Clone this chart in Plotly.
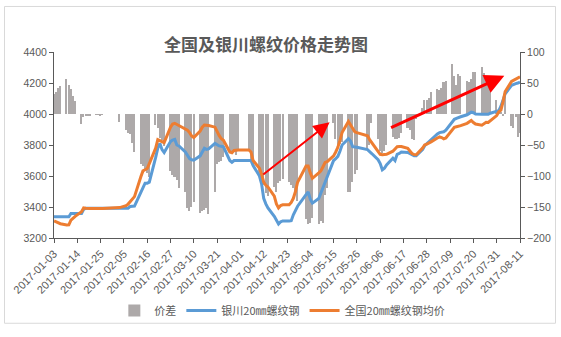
import pandas as pd
import plotly.graph_objects as go

# ---------------- data (one row per week, Mon..Fri; None = no quote) ----------------
week_starts = pd.date_range("2017-01-02", "2017-08-07", freq="W-MON")

diff_by_week = [
    [None, 32, 36, 42, 45],
    [56, 47, 41, 29, 21],
    [-16, -5, -4, -3, -3],
    [-1, -1, -2, -1, None],
    [None, None, None, None, -13],
    [-26, -30, -33, -47, -62],
    [-80, -84, -88, -95, -102],
    [-18, -22, -38, -42, -52],
    [-92, -99, -102, -107, -119],
    [-125, -152, -157, -150, -142],
    [-159, -157, -155, -151, -161],
    [-125, -80, -78, -76, -70],
    [-60, -65, -62, -66, -58],
    [None, None, -60, -75, -80],
    [-100, -108, -115, -128, -133],
    [-118, -125, -112, -108, -105],
    [-110, -115, -120, -130, -140],
    [None, -170, -178, -175, -168],
    [-178, -172, -175, -130, -120],
    [-15, -40, -50, -48, -45],
    [-126, -125, -110, -97, -90],
    [None, None, -58, -50, -15],
    [-40, -60, -63, -60, -50],
    [-37, -40, -41, -38, -30],
    [-22, -25, -40, -42, -8],
    [10, 23, 22, 26, 36],
    [41, 38, 42, 51, 54],
    [80, 62, 46, 64, 62],
    [54, 51, 56, 68, 67],
    [76, 66, 62, 57, 45],
    [23, 8, 2, -2, 33],
    [-20, -22, -5, -37, -30],
]

yinchuan_by_week = [
    [None, 3337, 3337, 3337, 3337],
    [3337, 3337, 3358, 3358, 3358],
    [3358, 3385, 3392, 3392, 3392],
    [3392, 3392, 3392, 3392, None],
    [None, None, None, None, 3392],
    [3392, 3392, 3404, 3406, 3406],
    [3494, 3530, 3554, 3554, 3560],
    [3720, 3780, 3810, 3770, 3752],
    [3822, 3832, 3836, 3800, 3794],
    [3755, 3735, 3712, 3705, 3702],
    [3730, 3755, 3779, 3772, 3775],
    [3810, 3800, 3794, 3792, 3788],
    [3700, 3688, 3700, 3700, 3700],
    [None, None, 3700, 3700, 3668],
    [3600, 3550, 3456, 3420, 3394],
    [3340, 3310, 3290, 3305, 3310],
    [3310, 3312, 3350, 3380, 3405],
    [None, 3480, 3498, 3450, 3425],
    [3455, 3490, 3530, 3565, 3600],
    [3700, 3712, 3727, 3760, 3800],
    [3841, 3825, 3789, 3787, 3785],
    [None, None, 3770, 3755, 3745],
    [3705, 3680, 3640, 3650, 3672],
    [3715, 3700, 3740, 3745, 3755],
    [3752, 3745, 3735, 3731, 3731],
    [3770, 3795, 3808, 3825, 3835],
    [3872, 3880, 3883, 3885, 3895],
    [3950, 3966, 3972, 3978, 3982],
    [3995, 4005, 4012, 4008, 4000],
    [3998, 3998, 3998, 3998, 4005],
    [4019, 4022, 4050, 4090, 4130],
    [4185, 4192, 4196, 4200, 4206],
]

national_by_week = [
    [None, 3310, 3303, 3296, 3292],
    [3284, 3285, 3315, 3331, 3340],
    [3370, 3394, 3392, 3390, 3390],
    [3390, 3390, 3390, 3390, None],
    [None, None, None, None, 3396],
    [3408, 3419, 3435, 3452, 3467],
    [3595, 3633, 3640, 3648, 3680],
    [3780, 3835, 3830, 3822, 3815],
    [3915, 3935, 3940, 3933, 3925],
    [3900, 3895, 3880, 3858, 3848],
    [3890, 3915, 3929, 3928, 3926],
    [3915, 3885, 3860, 3840, 3830],
    [3755, 3750, 3765, 3768, 3768],
    [None, None, 3768, 3755, 3700],
    [3650, 3612, 3560, 3540, 3529],
    [3470, 3420, 3394, 3410, 3414],
    [3414, 3430, 3456, 3500, 3560],
    [None, 3664, 3664, 3620, 3585],
    [3620, 3633, 3660, 3688, 3693],
    [3730, 3755, 3785, 3830, 3880],
    [3952, 3930, 3905, 3885, 3880],
    [None, None, 3860, 3835, 3815],
    [3755, 3740, 3737, 3737, 3740],
    [3760, 3775, 3789, 3790, 3790],
    [3778, 3760, 3745, 3738, 3737],
    [3780, 3800, 3806, 3815, 3820],
    [3845, 3852, 3848, 3840, 3845],
    [3895, 3914, 3918, 3920, 3925],
    [3940, 3950, 3958, 3945, 3935],
    [3928, 3940, 3946, 3945, 3955],
    [3990, 4015, 4025, 4080, 4145],
    [4210, 4218, 4228, 4232, 4240],
]

tick_start = "2017-01-03"
x_end = "2017-08-11"

name_diff = "价差"
name_yc = "银川20㎜螺纹钢"
name_nat = "全国20㎜螺纹钢均价"
title_text = "全国及银川螺纹价格走势图"

# ---------------- build rows ----------------
rows = []
for ws, d, b, o in zip(week_starts, diff_by_week, yinchuan_by_week, national_by_week):
    for i in range(5):
        if d[i] is None and b[i] is None and o[i] is None:
            continue
        rows.append((ws + pd.Timedelta(days=i), d[i], b[i], o[i]))
df = pd.DataFrame(rows, columns=["date", "diff", "yc", "nat"])

GRAY = "#595959"
FONT = "Liberation Sans, Arial, Noto Sans CJK SC, sans-serif"
CJK = "Noto Sans CJK SC, Liberation Sans, sans-serif"

fig = go.Figure()
fig.add_trace(go.Bar(
    x=df["date"], y=df["diff"], name=name_diff, yaxis="y",
    marker=dict(color="#ADA9A9", line=dict(width=0)),
    width=0.72 * 86400000,
))
fig.add_trace(go.Scatter(
    x=df["date"], y=df["yc"], name=name_yc, yaxis="y2", mode="lines",
    line=dict(color="#5B9BD5", width=3), connectgaps=True,
))
fig.add_trace(go.Scatter(
    x=df["date"], y=df["nat"], name=name_nat, yaxis="y2", mode="lines",
    line=dict(color="#ED7D31", width=3), connectgaps=True,
))

axis_common = dict(
    showline=True, linecolor=GRAY, linewidth=1, ticks="outside", ticklen=4,
    tickcolor=GRAY, showgrid=False, zeroline=False, automargin=False,
)

fig.update_layout(
    width=561, height=337,
    margin=dict(l=54, r=41, t=52, b=93),
    paper_bgcolor="white", plot_bgcolor="white",
    bargap=0,
    showlegend=True,
    title=dict(text=title_text, x=266 / 561, xanchor="center", y=1 - 45 / 337,
               yanchor="middle",
               font=dict(family=CJK, size=17, color=GRAY, weight="bold")),
    xaxis=dict(type="date", range=[tick_start, x_end], tick0=tick_start,
               dtick=11 * 86400000, tickformat="%Y-%m-%d", tickangle=-45,
               tickfont=dict(family=FONT, size=11, color=GRAY),
               **axis_common),
    yaxis=dict(side="right", range=[-200, 100], tick0=0, dtick=50, anchor="x",
               tickfont=dict(family=FONT, size=10.5, color=GRAY),
               **axis_common),
    yaxis2=dict(side="left", overlaying="y", range=[3200, 4400], tick0=3200,
                dtick=200, anchor="x",
                tickfont=dict(family=FONT, size=10.5, color=GRAY),
                **axis_common),
    legend=dict(orientation="h", x=0.49, xanchor="center", y=-0.39,
                yanchor="middle", font=dict(family=CJK, size=11, color=GRAY),
                bgcolor="rgba(0,0,0,0)"),
    shapes=[dict(type="rect", xref="paper", yref="paper",
                 x0=(4.5 - 54) / 466, x1=(555.5 - 54) / 466,
                 y0=(244 - 332) / 192, y1=(244 - 5) / 192,
                 line=dict(color="#D9D9D9", width=1), fillcolor="rgba(0,0,0,0)",
                 layer="below")],
    annotations=[
        dict(x="2017-05-13 03:00", y=3946, ax="2017-04-11 02:00", ay=3602,
             xref="x", yref="y2", axref="x", ayref="y2", text="",
             showarrow=True, arrowhead=2, arrowsize=1.6, arrowwidth=2,
             arrowcolor="#FF0000"),
        dict(x="2017-08-03 14:00", y=4246, ax="2017-06-10 10:00", ay=3908,
             xref="x", yref="y2", axref="x", ayref="y2", text="",
             showarrow=True, arrowhead=2, arrowsize=1.3, arrowwidth=3,
             arrowcolor="#FF0000"),
    ],
)

fig.write_html("out.html")
